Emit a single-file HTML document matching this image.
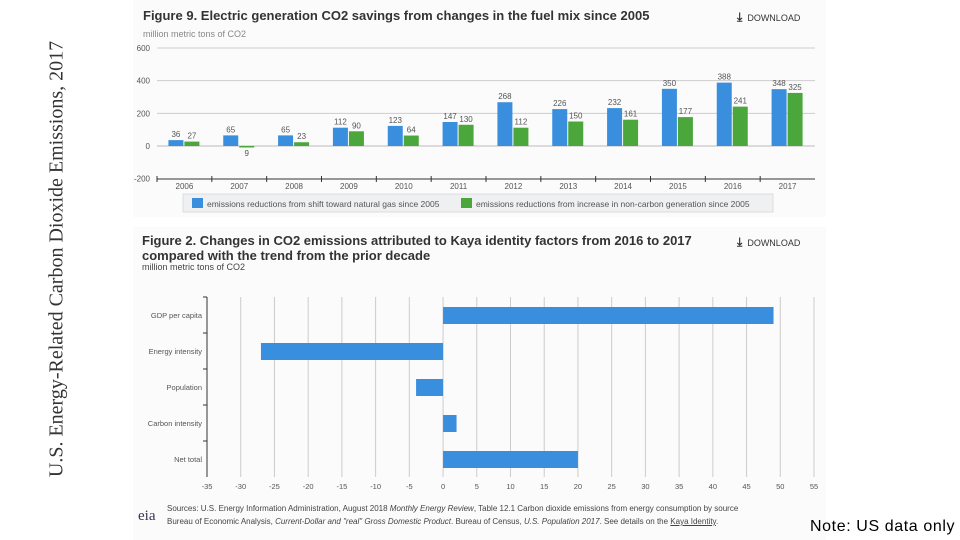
<!DOCTYPE html>
<html><head><meta charset="utf-8"><style>
body{margin:0;width:960px;height:540px;background:#fff;position:relative;overflow:hidden;font-family:"Liberation Sans",sans-serif}
.panel{position:absolute;background:#fbfbfb}
.t{position:absolute;white-space:nowrap}
</style></head><body>
<div class="t" style="left:57px;top:259px;transform:translate(-50%,-50%) rotate(-90deg);font-family:'Liberation Serif',serif;font-size:20px;color:#333">U.S. Energy-Related Carbon Dioxide Emissions, 2017</div>

<div class="panel" style="left:133px;top:0;width:693px;height:217px"></div>
<div class="panel" style="left:133px;top:227px;width:693px;height:313px"></div>

<div class="t" style="left:143px;top:8px;font-size:13px;font-weight:bold;color:#333">Figure 9. Electric generation CO2 savings from changes in the fuel mix since 2005</div>
<div class="t" style="left:737px;top:10px;font-size:9px;color:#333"><b style="font-size:12px">&#x2913;</b>&nbsp; DOWNLOAD</div>
<div class="t" style="left:143px;top:29px;font-size:9px;color:#888">million metric tons of CO2</div>

<svg id="c1" style="position:absolute;left:0;top:0" width="960" height="540"></svg>

<div class="t" style="left:142px;top:233px;font-size:13px;font-weight:bold;color:#333;line-height:15px">Figure 2. Changes in CO2 emissions attributed to Kaya identity factors from 2016 to 2017<br>compared with the trend from the prior decade</div>
<div class="t" style="left:737px;top:235px;font-size:9px;color:#333"><b style="font-size:12px">&#x2913;</b>&nbsp; DOWNLOAD</div>
<div class="t" style="left:142px;top:262px;font-size:9px;color:#444">million metric tons of CO2</div>

<div class="t" style="left:138px;top:508px;font-family:'Liberation Serif',serif;font-size:15px;color:#335">eia</div>
<div class="t" style="left:167px;top:502px;font-size:8px;color:#444;line-height:13px">Sources: U.S. Energy Information Administration, August 2018 <i>Monthly Energy Review</i>, Table 12.1 Carbon dioxide emissions from energy consumption by source<br>Bureau of Economic Analysis, <i>Current-Dollar and "real" Gross Domestic Product</i>. Bureau of Census, <i>U.S. Population 2017</i>. See details on the <u>Kaya Identity</u>.</div>
<div class="t" style="left:810px;top:518px;font-size:16px;letter-spacing:0.6px;color:#000">Note: US data only</div>

<script>
const years=["2006","2007","2008","2009","2010","2011","2012","2013","2014","2015","2016","2017"];
const gasValues=[36,65,65,112,123,147,268,226,232,350,388,348];
const nonCarbonValues=[27,-9,23,90,64,130,112,150,161,177,241,325];
const yTicks=[600,400,200,0,-200];
const kayaCats=["GDP per capita","Energy intensity","Population","Carbon intensity","Net total"];
const kayaValues=[49,-27,-4,2,20];
const xTicks=[-35,-30,-25,-20,-15,-10,-5,0,5,10,15,20,25,30,35,40,45,50,55];

const NS="http://www.w3.org/2000/svg";
const svg=document.getElementById('c1');
function mk(tag,attrs,txt){const e=document.createElementNS(NS,tag);for(const k in attrs)e.setAttribute(k,attrs[k]);if(txt!==undefined)e.textContent=txt;svg.appendChild(e);return e;}

// Figure 9
const y1=v=>146-v*(98/600);
const x0=157,bw=(815-157)/years.length;
yTicks.forEach(t=>{
  if(t!==-200){const g=mk('line',{x1:x0,x2:815,y1:y1(t),y2:y1(t),stroke:t===0?'#bbb':'#ccc','stroke-width':1});
  
  }
  const l=mk('text',{x:150,y:y1(t)+3,'text-anchor':'end','font-size':8,fill:'#555'},t);
  
  
});
const ax=mk('line',{x1:x0,x2:815,y1:179,y2:179,stroke:'#333','stroke-width':1});


years.forEach((yr,i)=>{
  const c=x0+bw*(i+0.5);
  const tk=mk('line',{x1:x0+bw*i,x2:x0+bw*i,y1:176,y2:182,stroke:'#333'});
  
  
  const lb=mk('text',{x:c,y:189,'text-anchor':'middle','font-size':8,fill:'#555'},yr);
  
  
  [[gasValues[i],'#3a8ede',c-16],[nonCarbonValues[i],'#4ba63c',c]].forEach(([v,col,bx],j)=>{
    const top=Math.min(y1(v),y1(0)),h=Math.abs(y1(v)-y1(0));
    const r=mk('rect',{x:bx,y:top,width:15,height:Math.max(h,1),fill:col});
    
    
    const ly=v>=0?y1(v)-3:y1(0)+10;
    const vl=mk('text',{x:bx+7.5,y:ly,'text-anchor':'middle','font-size':8,fill:'#555'},v<0?-v:v);
    
    
  });
});
const lg=mk('rect',{x:183,y:194,width:590,height:18,fill:'#eef0f2',stroke:'#ddd'});


const le1=mk('rect',{x:192,y:198,width:11,height:10,fill:'#3a8ede'});


const lt1=mk('text',{x:207,y:207,'font-size':8.5,fill:'#555'},'emissions reductions from shift toward natural gas since 2005');


const le2=mk('rect',{x:461,y:198,width:11,height:10,fill:'#4ba63c'});


const lt2=mk('text',{x:476,y:207,'font-size':8.5,fill:'#555'},'emissions reductions from increase in non-carbon generation since 2005');



// Figure 2
const xs=v=>207+(v+35)*(607/90);
const top2=297,band=36;
xTicks.forEach(t=>{
  if(t!==-35){const g=mk('line',{x1:xs(t),x2:xs(t),y1:top2,y2:top2+band*5,stroke:'#ccc'});
  
  }
  const l=mk('text',{x:xs(t),y:489,'text-anchor':'middle','font-size':7.5,fill:'#555'},t);
  
  
});
const va=mk('line',{x1:207,x2:207,y1:top2,y2:top2+band*5,stroke:'#333'});


kayaCats.forEach((c,i)=>{
  const cy=top2+band*(i+0.5);
  const tk=mk('line',{x1:203,x2:207,y1:top2+band*i,y2:top2+band*i,stroke:'#333'});
  
  
  const l=mk('text',{x:202,y:cy+3,'text-anchor':'end','font-size':7.5,fill:'#555'},c);
  
  
  const v=kayaValues[i];
  const r=mk('rect',{x:Math.min(xs(0),xs(v)),y:cy-8,width:Math.abs(xs(v)-xs(0)),height:17,fill:'#3a8ede'});
  
  
});
</script>
</body></html>
